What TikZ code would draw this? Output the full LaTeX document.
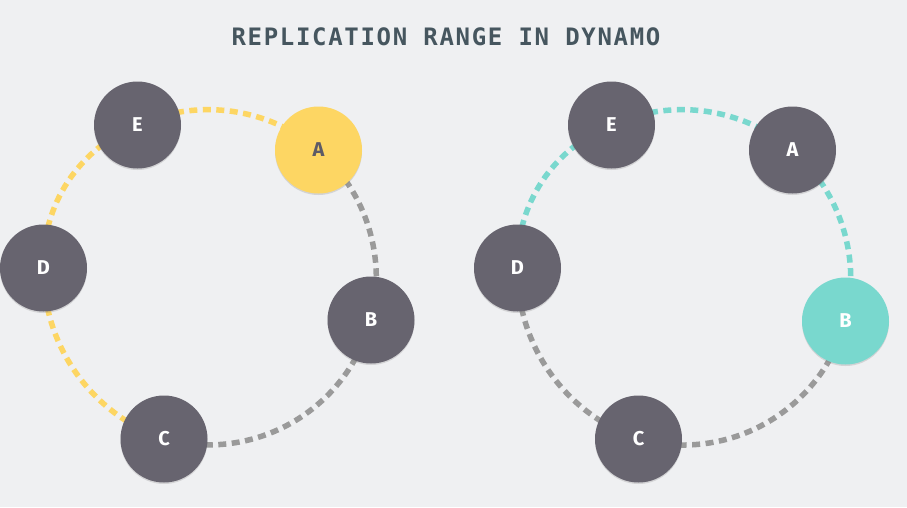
\documentclass[tikz,border=0pt]{standalone}
\usepackage{fontspec}
\setsansfont{Fira Sans}
\newfontfamily\titlefont[LetterSpace=7]{DejaVu Sans Mono}
\usetikzlibrary{shadows,backgrounds}
\definecolor{bgcol}{HTML}{EFF0F2}
\definecolor{nodecol}{HTML}{67646F}
\definecolor{yellowcol}{HTML}{FDD663}
\definecolor{tealcol}{HTML}{79D8CE}
\definecolor{dashgray}{HTML}{9A9A9A}
\definecolor{titlecol}{HTML}{46565F}
\definecolor{darktext}{HTML}{5D5B66}

\begin{document}
\begin{tikzpicture}[x=1pt,y=-1pt,
    ring/.style={circle,fill=nodecol,minimum size=87pt,inner sep=0pt,text=white,
      font=\sffamily\bfseries\fontsize{20}{20}\selectfont,
      drop shadow={opacity=0.25,shadow xshift=0pt,shadow yshift=-1.5pt}},
    link/.style={line width=5.5pt,dash pattern=on 8pt off 5.5pt}]
  \node[text=titlecol,font=\titlefont\bfseries\fontsize{24}{24}\selectfont] (title) at (446,37) {REPLICATION RANGE IN DYNAMO};

  % left ring
  \node[ring] (lE) at (137.5,125) {E};
  \node[ring,fill=yellowcol,text=darktext] (lA) at (318.5,150) {A};
  \node[ring] (lB) at (371,320) {B};
  \node[ring] (lC) at (164,439) {C};
  \node[ring] (lD) at (43.5,268) {D};

  % right ring
  \node[ring] (rE) at (611.5,125) {E};
  \node[ring] (rA) at (792.5,150) {A};
  \node[ring,fill=tealcol] (rB) at (845.5,321) {B};
  \node[ring] (rC) at (638.5,439) {C};
  \node[ring] (rD) at (517.5,268) {D};

  \begin{scope}[on background layer]
    \fill[bgcol] (0,0) rectangle (907,507);
    \draw[link,yellowcol] (lE.center) to[bend left=32.5,looseness=0.92] (lA.center);
    \draw[link,dashgray] (lA.center) to[bend left=31.5,looseness=0.92] (lB.center);
    \draw[link,dashgray] (lB.center) to[bend left=45,looseness=1] (lC.center);
    \draw[link,yellowcol] (lC.center) to[bend left=36,looseness=0.94] (lD.center);
    \draw[link,yellowcol] (lD.center) to[bend left=35,looseness=0.94] (lE.center);
    \draw[link,tealcol] (rE.center) to[bend left=32.5,looseness=0.92] (rA.center);
    \draw[link,tealcol] (rA.center) to[bend left=31.5,looseness=0.92] (rB.center);
    \draw[link,dashgray] (rB.center) to[bend left=45,looseness=1] (rC.center);
    \draw[link,dashgray] (rC.center) to[bend left=36,looseness=0.94] (rD.center);
    \draw[link,tealcol] (rD.center) to[bend left=35,looseness=0.94] (rE.center);
  \end{scope}
\end{tikzpicture}
\end{document}
